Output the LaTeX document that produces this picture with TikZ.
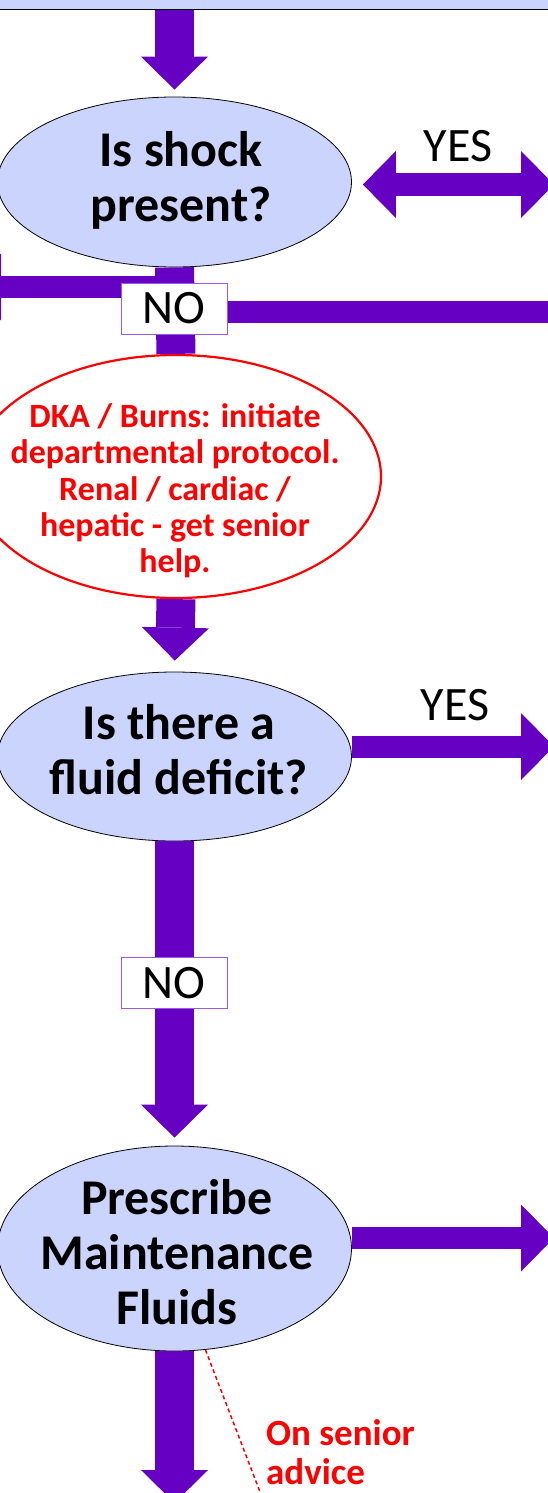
\documentclass[tikz,border=0pt]{standalone}
\usepackage{fontspec}
\setmainfont{Carlito}
\usetikzlibrary{shapes.geometric,arrows.meta}
\definecolor{myPurple}{RGB}{102,0,194}
\definecolor{myLilac}{RGB}{203,212,252}
\definecolor{myEdge}{RGB}{155,90,225}
\definecolor{myRed}{RGB}{255,0,0}

\begin{document}
\begin{tikzpicture}[x=1pt,y=-1pt,
		bubble/.style={ellipse,draw=black,fill=myLilac,line width=0.8pt,inner sep=0pt},
		redbubble/.style={ellipse,draw=myRed,fill=white,line width=2.2pt,inner sep=0pt},
		bigtext/.style={font=\fontsize{50}{55}\selectfont\bfseries,align=center,inner sep=0pt},
		redtext/.style={text=myRed,font=\fontsize{34}{36.3}\selectfont\bfseries,align=center,inner sep=0pt},
		answer/.style={font=\fontsize{48}{52}\selectfont,inner sep=0pt},
		nobox/.style={answer,draw=myEdge,fill=white,line width=1pt,minimum width=106pt,minimum height=51pt},
		bighead/.tip={Triangle[length=33pt,width=67pt,line width=0pt]},
		downarrow/.style={myPurple,line width=39pt,-bighead},
		sidearrow/.style={myPurple,line width=22pt,-bighead},
		bar/.style={myPurple,line width=39pt},
		sidebar/.style={myPurple,line width=22pt}]
		\useasboundingbox (0,0) rectangle (548,1493);
		
		% boxes
		\node[draw=black,fill=myLilac,line width=1pt,minimum width=570pt,minimum height=30pt,inner sep=0pt] (topbox) at (274,-5) {};
		\node[bubble,minimum width=354pt,minimum height=170pt] (shock) at (174.5,182) {};
		\node[bigtext] (shocktext) at (181,180) {Is shock\\present?};
		\node[redbubble,minimum width=410pt,minimum height=243pt] (renal) at (176,476.5) {};
		\node[redtext] (renaltext) at (175,491) {DKA / Burns: initiate\\departmental protocol.\\Renal / cardiac /\\hepatic - get senior\\help.};
		\node[bubble,minimum width=354pt,minimum height=169pt] (fluid) at (174.5,756.5) {};
		\node[bigtext] (fluidtext) at (179,749.5) {Is there a\\fluid deficit?};
		\node[bubble,minimum width=354pt,minimum height=205pt] (maint) at (174.5,1248.5) {};
		\node[bigtext] (mainttext) at (177,1252) {Prescribe\\Maintenance\\Fluids};
		
		% free ends
		\coordinate (leftout) at (-32,287);
		\coordinate (rightout) at (560,311.5);
		\coordinate (yesout1) at (554,184.5);
		\coordinate (yesout2) at (554,746.5);
		\coordinate (maintout) at (554,1238);
		\coordinate (downout) at (174.5,1503);
		\coordinate (advicept) at (262,1497);
		
		% arrows
		\draw[downarrow,shorten >=7pt] (topbox.south -| shock.north) -- (shock.north);
		\draw[bar] (shock.south) -- (renal.north);
		\draw[sidearrow] (shock.south |- leftout) -- (leftout);
		\draw[sidebar] (shock.south |- rightout) -- (rightout);
		\draw[myPurple,line width=23pt,bighead-bighead,shorten <=11pt] (shock.east |- yesout1) -- (yesout1);
		\draw[downarrow,shorten >=11pt] (renal.south) -- (fluid.north);
		\draw[sidearrow] ([yshift=10pt]fluid.east) -- (yesout2);
		\draw[downarrow,shorten >=8pt] (fluid.south) -- (maint.north);
		\draw[sidearrow] ([yshift=10.5pt]maint.east) -- (maintout);
		\draw[downarrow] (maint.south) -- (downout);
		\draw[myRed,line width=1.5pt,dash pattern=on 4pt off 3pt] (maint.-73) -- (advicept);
		
		% labels
		\node[nobox] (no1) at (174,308.5) {NO};
		\node[nobox] (no2) at (174,983) {NO};
		\node[answer,anchor=base] (yes1) at (458,161) {YES};
		\node[answer,anchor=base] (yes2) at (455,720) {YES};
		\node[redtext,font=\fontsize{37}{39}\selectfont\bfseries,align=left,anchor=north west] (advice) at (266,1419) {On senior\\advice};
\end{tikzpicture}
\end{document}
